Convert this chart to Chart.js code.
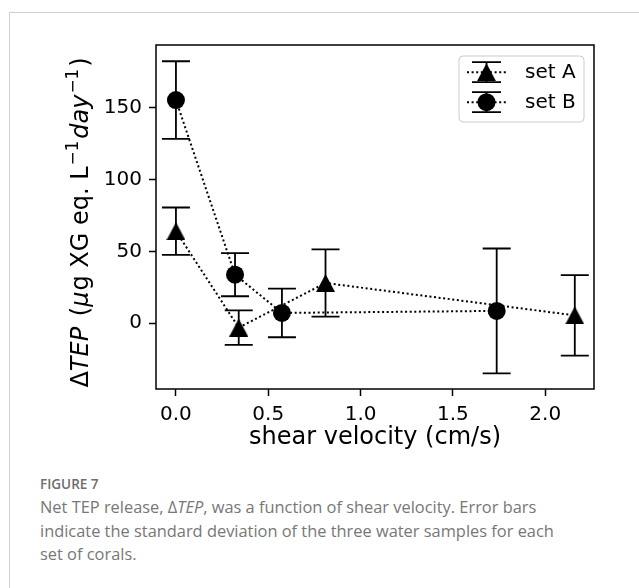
<!DOCTYPE html>
<html>
<head>
<meta charset="utf-8">
<script src="https://cdn.jsdelivr.net/npm/chart.js@4.4.0/dist/chart.umd.min.js"></script>
<style>
  html, body { margin: 0; padding: 0; background: #fff; }
  body { width: 639px; height: 588px; position: relative; overflow: hidden; }
  #frame { position: absolute; left: 9px; top: 12px; width: 700px; height: 700px; border: 1px solid #d0d0d0; }
  #wrap { position: absolute; left: 0; top: 0; width: 639px; height: 460px; }
  #caption { position: absolute; left: 40px; top: 475px; font-family: "Open Sans", sans-serif; color: #777; }
  #caption .fig { font-size: 13.5px; font-weight: 600; line-height: 19px; color: #6e6e6e; }
  #caption .txt { font-size: 16.4px; line-height: 23.6px; margin-top: 1px; }
</style>
</head>
<body>
<div id="frame"></div>
<div id="wrap"><canvas id="tep"></canvas></div>
<div id="caption">
  <div class="fig">FIGURE 7</div>
  <div class="txt">Net TEP release, Δ<i>TEP</i>, was a function of shear velocity. Error bars<br>indicate the standard deviation of the three water samples for each<br>set of corals.</div>
</div>
<script>
// values
const setA_x = [0.0, 0.34, 0.81, 2.16];
const setA_y = [64, -3, 28, 5.5];
const setA_err = [16.5, 12, 23.4, 28];

const setB_x = [0.0, 0.32, 0.574, 1.737];
const setB_y = [155.2, 33.8, 7.2, 8.6];
const setB_err = [27, 15, 16.9, 43.4];

const xTicks = [0.0, 0.5, 1.0, 1.5, 2.0];
const yTicks = [0, 50, 100, 150];

const FONT = "DejaVu Sans";

// matplotlib style '^' marker, centred on its bounding box
const tri = document.createElement('canvas');
tri.width = 19; tri.height = 18;
(function () {
  const c = tri.getContext('2d');
  c.fillStyle = '#000';
  c.beginPath();
  c.moveTo(9.5, 0); c.lineTo(19, 18); c.lineTo(0, 18);
  c.closePath(); c.fill();
})();

function pts(xs, ys) {
  return xs.map((v, i) => ({x: v, y: ys[i]}));
}

const errorBars = {
  id: 'errorBars',
  beforeDatasetsDraw(chart) {
    const {ctx, scales: {x, y}} = chart;
    ctx.save();
    ctx.strokeStyle = '#000';
    ctx.lineWidth = 1.8;
    chart.data.datasets.forEach(ds => {
      ds.data.forEach((p, i) => {
        const px = x.getPixelForValue(p.x);
        const t = y.getPixelForValue(p.y + ds.err[i]);
        const b = y.getPixelForValue(p.y - ds.err[i]);
        ctx.beginPath();
        ctx.moveTo(px, t); ctx.lineTo(px, b);
        ctx.moveTo(px - 14, t); ctx.lineTo(px + 14, t);
        ctx.moveTo(px - 14, b); ctx.lineTo(px + 14, b);
        ctx.stroke();
      });
    });
    ctx.restore();
  }
};

const extras = {
  id: 'extras',
  afterDraw(chart) {
    const {ctx, chartArea: a} = chart;
    ctx.save();
    // axes frame
    ctx.strokeStyle = '#000';
    ctx.lineWidth = 1.5;
    ctx.strokeRect(a.left, a.top, a.right - a.left, a.bottom - a.top);

    // y title with mixed italic / superscripts (third item = extra gap after)
    const segs = [
      ['Δ', '', 0], ['TEP', 'italic ', 3], [' (', '', 0], ['μ', 'italic ', 1],
      ['g XG eq. L', '', 1], ['−1', 'sup', 2], ['day', 'italic ', 1], ['−1', 'sup', 2], [')', '', 0]
    ];
    const fs = 24, ss = 16.8;
    let total = 0;
    segs.forEach(s => {
      ctx.font = s[1] === 'sup' ? ss + 'px ' + FONT : s[1] + fs + 'px ' + FONT;
      s.w = ctx.measureText(s[0]).width + s[2];
      total += s.w;
    });
    ctx.translate(88, (a.top + a.bottom) / 2 + 5.5);
    ctx.rotate(-Math.PI / 2);
    ctx.fillStyle = '#000';
    ctx.textBaseline = 'alphabetic';
    let cx = -total / 2;
    segs.forEach(s => {
      if (s[1] === 'sup') {
        ctx.font = ss + 'px ' + FONT;
        ctx.fillText(s[0], cx, -10);
      } else {
        ctx.font = s[1] + fs + 'px ' + FONT;
        ctx.fillText(s[0], cx, 0);
      }
      cx += s.w;
    });
    ctx.restore();

    // legend
    ctx.save();
    const lx = 459, ly = 56, lw = 125, lh = 66;
    ctx.beginPath();
    ctx.roundRect(lx, ly, lw, lh, 4);
    ctx.fillStyle = 'rgba(255,255,255,0.8)';
    ctx.fill();
    ctx.strokeStyle = '#cccccc';
    ctx.lineWidth = 1;
    ctx.stroke();
    chart.data.datasets.forEach((ds, i) => {
      const cy = 72.2 + i * 30;
      const mx = 486.5;
      ctx.strokeStyle = '#000';
      ctx.setLineDash([2, 2.6]);
      ctx.lineWidth = 2;
      ctx.beginPath();
      ctx.moveTo(467, cy); ctx.lineTo(506, cy);
      ctx.stroke();
      ctx.setLineDash([]);
      ctx.lineWidth = 1.8;
      ctx.beginPath();
      ctx.moveTo(mx, cy - 10); ctx.lineTo(mx, cy + 10);
      ctx.moveTo(mx - 14.5, cy - 10); ctx.lineTo(mx + 14.5, cy - 10);
      ctx.moveTo(mx - 14.5, cy + 10); ctx.lineTo(mx + 14.5, cy + 10);
      ctx.stroke();
      if (ds.pointStyle === 'circle') {
        ctx.fillStyle = '#000';
        ctx.beginPath();
        ctx.arc(mx, cy, ds.pointRadius, 0, Math.PI * 2);
        ctx.fill();
      } else {
        ctx.drawImage(ds.pointStyle, mx - tri.width / 2, cy - tri.height / 2);
      }
      ctx.fillStyle = '#000';
      ctx.font = '20px ' + FONT;
      ctx.textBaseline = 'alphabetic';
      ctx.fillText(ds.label, 525, cy + 6.2);
    });
    ctx.restore();
  }
};

new Chart(document.getElementById('tep').getContext('2d'), {
  type: 'scatter',
  data: {
    datasets: [{
      label: 'set A',
      data: pts(setA_x, setA_y),
      err: setA_err,
      showLine: true,
      borderColor: '#000',
      borderWidth: 2,
      borderDash: [2, 2.6],
      pointStyle: tri,
      pointRadius: 9,
      backgroundColor: '#000'
    }, {
      label: 'set B',
      data: pts(setB_x, setB_y),
      err: setB_err,
      showLine: true,
      borderColor: '#000',
      borderWidth: 2,
      borderDash: [2, 2.6],
      pointStyle: 'circle',
      pointRadius: 9,
      pointBorderWidth: 0,
      backgroundColor: '#000'
    }]
  },
  options: {
    responsive: true,
    maintainAspectRatio: false,
    animation: false,
    events: [],
    layout: { padding: { left: 0, top: 45, right: 45, bottom: 0 } },
    plugins: {
      legend: { display: false },
      tooltip: { enabled: false }
    },
    scales: {
      x: {
        type: 'linear',
        min: -0.108,
        max: 2.264,
        afterFit: s => { s.height = 71; },
        afterBuildTicks: s => { s.ticks = xTicks.map(v => ({value: v})); },
        border: { display: false },
        grid: { drawOnChartArea: false, drawTicks: true, tickLength: 7, tickColor: '#000', tickWidth: 1.5 },
        ticks: {
          color: '#000',
          padding: 7,
          font: { family: FONT, size: 20 },
          callback: v => v.toFixed(1)
        },
        title: {
          display: true,
          text: 'shear velocity (cm/s)',
          color: '#000',
          font: { family: FONT, size: 24 },
          padding: { top: 0, bottom: 8 }
        }
      },
      y: {
        type: 'linear',
        min: -45.7,
        max: 193.5,
        afterFit: s => { s.width = 156; },
        afterBuildTicks: s => { s.ticks = yTicks.map(v => ({value: v})); },
        border: { display: false },
        grid: { drawOnChartArea: false, drawTicks: true, tickLength: 7, tickColor: '#000', tickWidth: 1.5 },
        ticks: {
          color: '#000',
          padding: 7,
          font: { family: FONT, size: 20 }
        }
      }
    }
  },
  plugins: [errorBars, extras]
});
</script>
</body>
</html>
